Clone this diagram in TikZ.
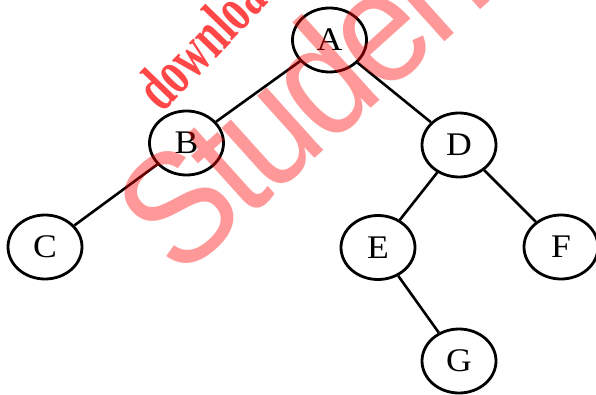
\documentclass[tikz,border=0pt]{standalone}
\usepackage{fontspec}
\usetikzlibrary{shapes.geometric}
\setmainfont{Liberation Serif}
\newfontfamily\wmsans{Liberation Sans}
\newfontfamily\wmserif{Liberation Serif}
\begin{document}
\begin{tikzpicture}[x=1pt,y=-1pt,
  vertex/.style={draw,line width=2.8pt,ellipse,minimum width=74pt,minimum height=64pt,inner sep=0pt,font=\fontsize{33}{35}\selectfont},
  edge/.style={line width=2.6pt},
  watermark/.style={anchor=base west,inner sep=0pt,text=red}]
\useasboundingbox (0,0) rectangle (596,395);
\clip (0,0) rectangle (596,395);
\node[vertex] (A) at (329.5,40) {\scalebox{1.08}[1]{A}};
\node[vertex] (B) at (186.5,143) {\scalebox{1.08}[1]{B}};
\node[vertex] (C) at (45,247) {\scalebox{1.08}[1]{C}};
\node[vertex] (D) at (459,145) {\scalebox{1.08}[1]{D}};
\node[vertex] (E) at (378,247.5) {\scalebox{1.08}[1]{E}};
\node[vertex] (F) at (561,247) {\scalebox{1.08}[1]{F}};
\node[vertex] (G) at (459,361) {\scalebox{1.08}[1]{G}};
\draw[edge] (A) -- (B);
\draw[edge] (A) -- (D);
\draw[edge] (B) -- (C);
\draw[edge] (D) -- (E);
\draw[edge] (D) -- (F);
\draw[edge] (E) -- (G);
\node[watermark,rotate=42,text opacity=0.4,font=\wmsans\fontsize{160}{170}\selectfont] (wm1) at (179,281) {\scalebox{0.9}[1]{S\kern-.04em t\kern-.04em u\kern-.04em d\kern-.04em e\kern-.04em n\kern-.04em t}};
\node[watermark,rotate=46,text opacity=0.72,font=\wmserif\bfseries\fontsize{64}{68}\selectfont] (wm2) at (162,114) {\scalebox{0.67}[1]{download}};
\end{tikzpicture}
\end{document}
